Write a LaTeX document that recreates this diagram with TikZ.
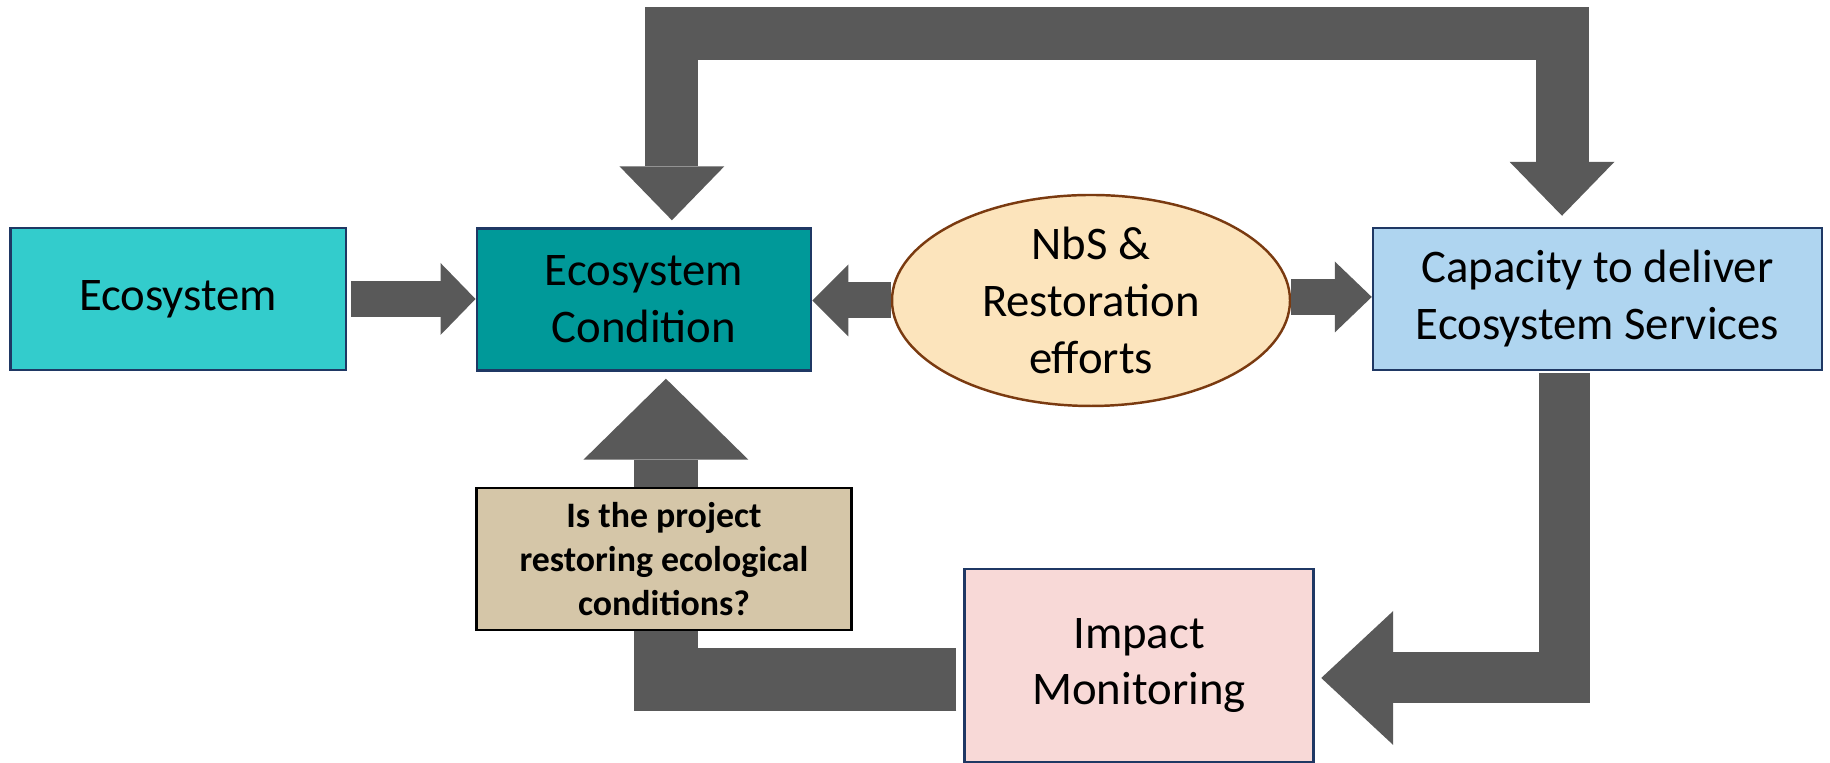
\documentclass[tikz,border=0pt]{standalone}
\usepackage{fontspec}
\setmainfont{Carlito}
\usetikzlibrary{arrows.meta,shapes.geometric}
\definecolor{ecoturq}{HTML}{33CCCC}
\definecolor{condteal}{HTML}{009999}
\definecolor{nbsfill}{HTML}{FCE4BC}
\definecolor{nbsline}{HTML}{7A3A10}
\definecolor{capblue}{HTML}{AFD5F0}
\definecolor{imppink}{HTML}{F8D9D7}
\definecolor{questtan}{HTML}{D5C6A8}
\definecolor{boxline}{HTML}{1F3864}
\definecolor{flowgrey}{HTML}{595959}
\tikzset{
  box/.style={draw=boxline, line width=0.7pt, minimum height=1.42cm, align=center,
    inner sep=0pt, font=\fontsize{13.3}{16.2}\selectfont},
  flow/.style={draw=flowgrey, line join=miter},
}
\begin{document}
\begin{tikzpicture}
\useasboundingbox (0,0) rectangle (18.30,7.63);
% boxes
\node[box, fill=ecoturq, minimum width=3.355cm] (eco) at (1.783,4.64) {Ecosystem};
\node[box, fill=condteal, minimum width=3.343cm] (cond) at (6.439,4.635) {Ecosystem\\Condition};
\node[box, ellipse, draw=nbsline, fill=nbsfill, minimum width=3.98cm, minimum height=2.11cm] (nbs) at (10.91,4.625) {NbS \&\\Restoration\\efforts};
\node[box, fill=capblue, minimum width=4.49cm] (cap) at (15.975,4.64) {Capacity to deliver\\Ecosystem Services};
\node[box, fill=imppink, minimum width=3.49cm, minimum height=1.93cm] (imp) at (11.39,0.975) {Impact\\Monitoring};
% block arrows
\draw[flow, line width=0.36cm, -{Triangle[length=0.35cm,width=0.72cm,line width=0pt]}] ([xshift=0.04cm]eco.east) -- (eco.east -| cond.west);
\draw[flow, line width=0.36cm, -{Triangle[length=0.36cm,width=0.72cm,line width=0pt]}] (nbs.west) -- (nbs.west -| cond.east);
\draw[flow, line width=0.36cm, -{Triangle[length=0.37cm,width=0.71cm,line width=0pt]}] ([yshift=0.035cm]nbs.east) -- ([yshift=0.035cm]nbs.east -| cap.west);
\draw[flow, line width=0.53cm, {Triangle[length=0.54cm,width=1.05cm,line width=0pt]}-{Triangle[length=0.54cm,width=1.05cm,line width=0pt]}] ([xshift=0.28cm,yshift=0.07cm]cond.north) -- ++(0,1.87) -| ([xshift=-0.355cm,yshift=0.11cm]cap.north);
\draw[flow, line width=0.51cm, -{Triangle[length=0.72cm,width=1.34cm,line width=0pt]}] ([xshift=-0.33cm,yshift=-0.02cm]cap.south) |- ([xshift=0.065cm,yshift=-0.125cm]imp.east);
\draw[flow, line width=0.635cm, -{Triangle[length=0.81cm,width=1.65cm,line width=0pt]}] ([xshift=-0.07cm,yshift=-0.14cm]imp.west) -| ([xshift=0.22cm,yshift=-0.07cm]cond.south);
% question box over the arrow
\node[box, draw=black, fill=questtan, minimum width=3.75cm, font=\fontsize{10.2}{12.5}\selectfont\bfseries] (quest) at (6.64,2.04) {Is the project\\restoring ecological\\conditions?};
\end{tikzpicture}
\end{document}
